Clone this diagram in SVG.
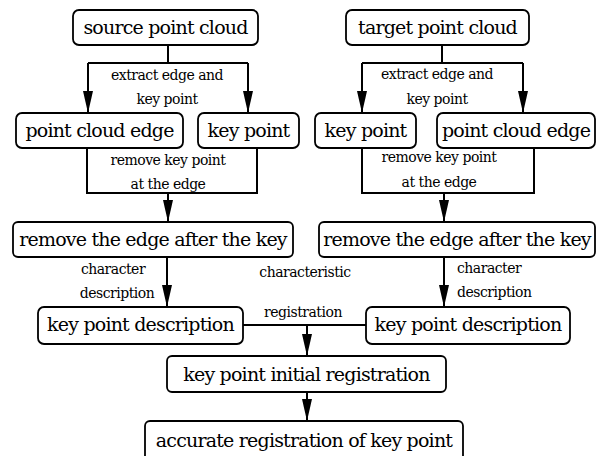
<svg xmlns="http://www.w3.org/2000/svg" width="597" height="456" viewBox="0 0 597 456">
<defs>
<marker id="arr" viewBox="0 0 22 10" refX="22" refY="5" markerWidth="22" markerHeight="10" markerUnits="userSpaceOnUse" orient="auto">
<path d="M0,0 L22,5 L0,10 Z" fill="#000"/>
</marker>
<style>
.box{fill:#fff;stroke:#000;stroke-width:1.8}
.nt{font-family:"DejaVu Serif","Liberation Serif",serif;font-size:19px;letter-spacing:-0.8px;text-anchor:middle;fill:#000}
.lb{font-family:"DejaVu Serif","Liberation Serif",serif;font-size:14px;letter-spacing:-0.5px;fill:#000}
.c{text-anchor:middle}
.ln{fill:none;stroke:#000;stroke-width:2}
</style>
</defs>
<rect width="597" height="456" fill="#fff"/>
<g id="connectors">
<path class="ln" d="M168,45 V63 M88,63 H248"/>
<path class="ln" d="M88,63 V113" marker-end="url(#arr)"/>
<path class="ln" d="M248,63 V113" marker-end="url(#arr)"/>
<path class="ln" d="M87,148 V193 H257 V148"/>
<path class="ln" d="M168,193 V222" marker-end="url(#arr)"/>
<path class="ln" d="M442,45 V63 M362,63 H523"/>
<path class="ln" d="M362,63 V113" marker-end="url(#arr)"/>
<path class="ln" d="M523,63 V113" marker-end="url(#arr)"/>
<path class="ln" d="M362,148 V193 H534 V148"/>
<path class="ln" d="M444,193 V222" marker-end="url(#arr)"/>
<path class="ln" d="M167,257 V307" marker-end="url(#arr)"/>
<path class="ln" d="M444,257 V307" marker-end="url(#arr)"/>
<path class="ln" d="M243,325 H366"/>
<path class="ln" d="M307,325 V356" marker-end="url(#arr)"/>
<path class="ln" d="M307,392 V421" marker-end="url(#arr)"/>
<text class="lb c" x="167" y="80">extract edge and</text>
<text class="lb c" x="167" y="104">key point</text>
<text class="lb c" x="168" y="165">remove key point</text>
<text class="lb c" x="168" y="189">at the edge</text>
<text class="lb c" x="437" y="79">extract edge and</text>
<text class="lb c" x="437" y="104">key point</text>
<text class="lb c" x="439" y="162">remove key point</text>
<text class="lb c" x="439" y="187">at the edge</text>
<text class="lb c" x="113" y="274">character</text>
<text class="lb c" x="117" y="298">description</text>
<text class="lb" x="457" y="273">character</text>
<text class="lb" x="457" y="297">description</text>
<text class="lb c" x="305" y="277">characteristic</text>
<text class="lb c" x="303" y="317">registration</text>
</g>
<g id="source"><rect class="box" x="73" y="10" width="185" height="35" rx="6"/><text class="nt" x="165.5" y="34">source point cloud</text></g>
<g id="target"><rect class="box" x="346" y="10" width="183" height="35" rx="6"/><text class="nt" x="437.5" y="34">target point cloud</text></g>
<g id="pce-left"><rect class="box" x="16" y="113" width="167" height="35" rx="6"/><text class="nt" x="99.5" y="137">point cloud edge</text></g>
<g id="kp-left"><rect class="box" x="198" y="113" width="101" height="35" rx="6"/><text class="nt" x="248.5" y="137">key point</text></g>
<g id="kp-right"><rect class="box" x="315" y="113" width="101" height="35" rx="6"/><text class="nt" x="365.5" y="137">key point</text></g>
<g id="pce-right"><rect class="box" x="437" y="113" width="158" height="35" rx="6"/><text class="nt" x="516" y="137">point cloud edge</text></g>
<g id="remove-left"><rect class="box" x="13" y="222" width="280" height="35" rx="5"/><text class="nt" x="153" y="246">remove the edge after the key</text></g>
<g id="remove-right"><rect class="box" x="319" y="222" width="276" height="35" rx="5"/><text class="nt" x="457" y="246">remove the edge after the key</text></g>
<g id="kpd-left"><rect class="box" x="38" y="307" width="205" height="37" rx="6"/><text class="nt" x="140.5" y="331">key point description</text></g>
<g id="kpd-right"><rect class="box" x="366" y="307" width="204" height="37" rx="6"/><text class="nt" x="468" y="331">key point description</text></g>
<g id="initial"><rect class="box" x="167" y="356" width="279" height="36" rx="5"/><text class="nt" x="306.5" y="381">key point initial registration</text></g>
<g id="accurate"><rect class="box" x="145" y="421" width="318" height="40" rx="5"/><text class="nt" x="304" y="447">accurate registration of key point</text></g>
</svg>
